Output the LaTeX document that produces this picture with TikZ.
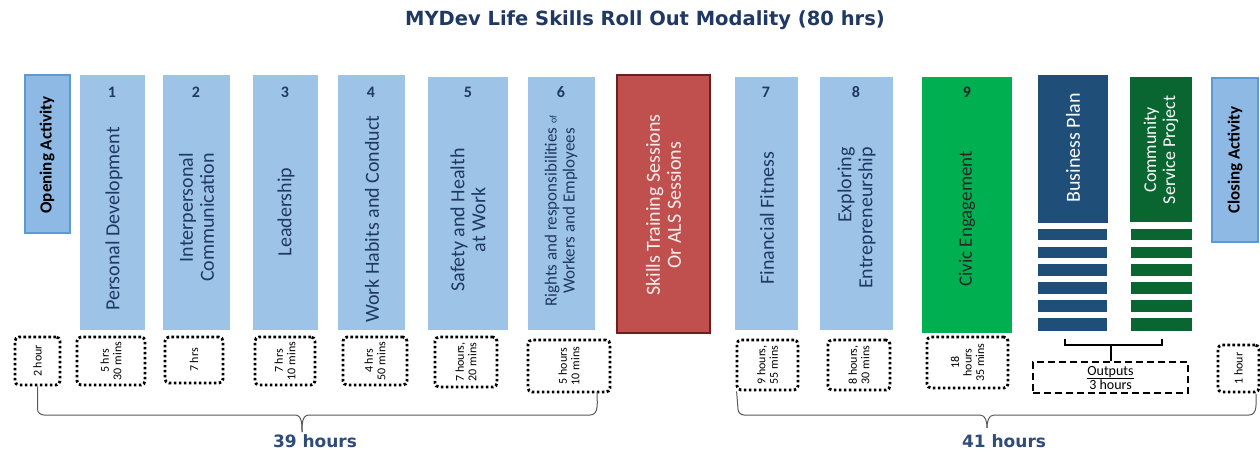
\documentclass[tikz,border=0pt]{standalone}
\usepackage{fontspec}
\setmainfont{Carlito}
\newfontfamily\titlefont{DejaVu Sans}
\definecolor{lb}{HTML}{9DC3E6}
\definecolor{lbtext}{HTML}{1F3864}
\definecolor{actfill}{HTML}{8DB9E4}
\definecolor{actdraw}{HTML}{5B9BD5}
\definecolor{redfill}{HTML}{C0504D}
\definecolor{reddraw}{HTML}{6E1E1E}
\definecolor{redtext}{HTML}{FBEDED}
\definecolor{grn}{HTML}{00B050}
\definecolor{navy}{HTML}{1F4E79}
\definecolor{dgrn}{HTML}{0A6630}
\definecolor{titlec}{HTML}{1F3864}
\definecolor{hrsc}{HTML}{2F4B7C}
\definecolor{bracec}{HTML}{5A5A5A}
\begin{document}
\begin{tikzpicture}[x=1pt,y=-1pt,
  lbbox/.style={fill=lb, draw=none, inner sep=0pt},
  actbox/.style={fill=actfill, draw=actdraw, line width=2pt, inner sep=0pt},
  rot/.style={rotate=90, inner sep=0pt, align=center},
  boxtext/.style={rot, text=lbtext, font=\fontsize{20}{21}\selectfont},
  numtext/.style={text=lbtext, font=\bfseries\fontsize{16}{17}\selectfont, inner sep=0pt},
  dotbox/.style={draw=black, line width=2.8pt, dash pattern=on 2.6pt off 2.4pt, rounded corners=4pt, inner sep=0pt},
  dtext/.style={rot, font=\fontsize{12}{12.5}\selectfont},
  bigbrace/.style={draw=bracec, line width=1pt},
  hrs/.style={text=hrsc, font=\titlefont\bfseries\fontsize{17}{18}\selectfont, inner sep=0pt}
]
\useasboundingbox (0,0) rectangle (1260,451);
\fill[white] (0,0) rectangle (1260,451);

% title
\node[text=titlec, font=\titlefont\bfseries\fontsize{19.5}{20}\selectfont, inner sep=0pt] (title) at (645,20) {MYDev Life Skills Roll Out Modality (80 hrs)};

% main boxes
\node[actbox, minimum width=45, minimum height=158] (open) at (47.5,154) {};
\node[lbbox, minimum width=65, minimum height=255] (b1) at (112.5,202.5) {};
\node[lbbox, minimum width=67, minimum height=255] (b2) at (196.5,202.5) {};
\node[lbbox, minimum width=65, minimum height=255] (b3) at (285.5,202.5) {};
\node[lbbox, minimum width=67, minimum height=255] (b4) at (371.5,202.5) {};
\node[lbbox, minimum width=80, minimum height=253] (b5) at (468,203.5) {};
\node[lbbox, minimum width=67, minimum height=253] (b6) at (561.5,203.5) {};
\node[fill=redfill, draw=reddraw, line width=2pt, inner sep=0pt, minimum width=93, minimum height=258] (red) at (663.5,204) {};
\node[lbbox, minimum width=63, minimum height=253] (b7) at (766.5,203.5) {};
\node[lbbox, minimum width=73, minimum height=253] (b8) at (856.5,203.5) {};
\node[fill=grn, inner sep=0pt, minimum width=90, minimum height=256] (b9) at (967,205) {};
\node[fill=navy, inner sep=0pt, minimum width=70, minimum height=148] (bp) at (1073,149) {};
\node[fill=dgrn, inner sep=0pt, minimum width=62, minimum height=145] (cs) at (1161,149.5) {};
\node[actbox, minimum width=46, minimum height=164] (close) at (1235,160) {};

% stripes
\foreach \ya/\yb in {229/240, 247/258, 264/276, 282/294, 300/312, 318/331}{
  \fill[navy] (1038,\ya) rectangle (1107,\yb);
  \fill[dgrn] (1131,\ya) rectangle (1192,\yb);
}

% numbers
\node[numtext] (n1) at (112,92) {1};
\node[numtext] (n2) at (196,92) {2};
\node[numtext] (n3) at (285,92) {3};
\node[numtext] (n4) at (371,92) {4};
\node[numtext] (n5) at (468,92) {5};
\node[numtext] (n6) at (561,92) {6};
\node[numtext] (n7) at (766,92) {7};
\node[numtext] (n8) at (856,92) {8};
\node[numtext, text=black!85] (n9) at (967,92) {9};

% box texts
\node[rot, text=black, font=\bfseries\fontsize{17}{18}\selectfont] (topen) at (47,155) {Opening Activity};
\node[boxtext] (t1) at (114,219) {Personal Development};
\node[boxtext, anchor=east, align=right] (t2) at (196.5,153) {Interpersonal\\Communication};
\node[boxtext] (t3) at (286,212) {Leadership};
\node[boxtext] (t4) at (372,219) {Work Habits and Conduct};
\node[boxtext] (t5) at (468,220) {Safety and Health\\at Work};
\node[boxtext, font=\fontsize{17}{18}\selectfont] (t6) at (561,211) {Rights and responsibilities {\fontsize{10}{10}\selectfont of}\\Workers and Employees};
\node[rot, text=redtext, font=\fontsize{20}{21}\selectfont] (tred) at (663.5,205) {Skills Training Sessions\\Or ALS Sessions};
\node[boxtext] (t7) at (767,218) {Financial Fitness};
\node[boxtext, anchor=east, align=right] (t8) at (856.5,147) {Exploring\\Entrepreneurship};
\node[boxtext, text=black!85, font=\fontsize{19}{20}\selectfont] (t9) at (967,219) {Civic Engagement};
\node[rot, text=white, font=\fontsize{20}{21}\selectfont] (tbp) at (1073,148) {Business Plan};
\node[rot, text=white, font=\fontsize{18}{19}\selectfont] (tcs) at (1161,150) {Community\\Service Project};
\node[rot, text=black, font=\bfseries\fontsize{17}{18}\selectfont] (tclose) at (1235,160) {Closing Activity};

% dotted duration boxes
\node[dotbox, minimum width=45, minimum height=48] (d1) at (37.5,361) {};
\node[dotbox, minimum width=68, minimum height=48] (d2) at (111,361) {};
\node[dotbox, minimum width=58, minimum height=46] (d3) at (194,360) {};
\node[dotbox, minimum width=60, minimum height=48] (d4) at (285,361) {};
\node[dotbox, minimum width=64, minimum height=48] (d5) at (375,361) {};
\node[dotbox, minimum width=62, minimum height=50] (d6) at (466,362) {};
\node[dotbox, minimum width=82, minimum height=52] (d7) at (569,366) {};
\node[dotbox, minimum width=61, minimum height=50] (d8) at (767.5,365) {};
\node[dotbox, minimum width=62, minimum height=50] (d9) at (859,365) {};
\node[dotbox, minimum width=81, minimum height=51] (d10) at (967.5,362.5) {};
\node[draw=black, line width=2.6pt, dash pattern=on 7pt off 4pt, inner sep=0pt, minimum width=155, minimum height=31] (out) at (1110.5,377.5) {};
\node[dotbox, minimum width=41, minimum height=47] (d12) at (1238.5,368.5) {};

\node[dtext] (l1) at (d1) {2 hour};
\node[dtext] (l2) at (d2) {5 hrs\\30 mins};
\node[dtext] (l3) at (d3) {7 hrs};
\node[dtext] (l4) at (d4) {7 hrs\\10 mins};
\node[dtext] (l5) at (d5) {4 hrs\\50 mins};
\node[dtext] (l6) at (d6) {7 hours,\\20 mins};
\node[dtext] (l7) at (d7) {5 hours\\10 mins};
\node[dtext] (l8) at (d8) {9 hours,\\55 mins};
\node[dtext] (l9) at (d9) {8 hours,\\30 mins};
\node[dtext] (l10) at (d10) {18\\hours\\35 mins};
\node[align=center, font=\fontsize{14}{13}\selectfont, inner sep=0pt] (lout) at (1110.5,378) {\underline{Outputs}\\3 hours};
\node[dtext] (l12) at (d12) {1 hour};

% outputs bracket
\coordinate (obl) at (1065,339);
\coordinate (obr) at (1162,339);
\coordinate (obm) at (out.north |- 0,345);
\draw[line width=2pt] (obl) |- (obr |- obm) -- (obr);
\draw[line width=2pt] (obm) -- (out.north);

% big braces
\coordinate (t39) at (302,432);
\coordinate (t41) at (987,428);
\coordinate (r39) at (597,392);
\coordinate (r41) at (1256,394);
\draw[bigbrace] (d1.south) -- (37.5,409) to[out=-90,in=180] (44,415) -- (295,415) to[out=0,in=90] (t39);
\draw[bigbrace] (t39) to[out=90,in=180] (309,415) -- (590,415) to[out=0,in=-90] (r39);
\draw[bigbrace] (d8.south west) ++(1,0) -- (738,409) to[out=-90,in=180] (744,415) -- (980,415) to[out=0,in=90] (t41);
\draw[bigbrace] (t41) to[out=90,in=180] (994,415) -- (1249,415) to[out=0,in=-90] (r41);

\node[hrs] (h39) at (315,441) {39 hours};
\node[hrs] (h41) at (1004,441) {41 hours};
\end{tikzpicture}
\end{document}
